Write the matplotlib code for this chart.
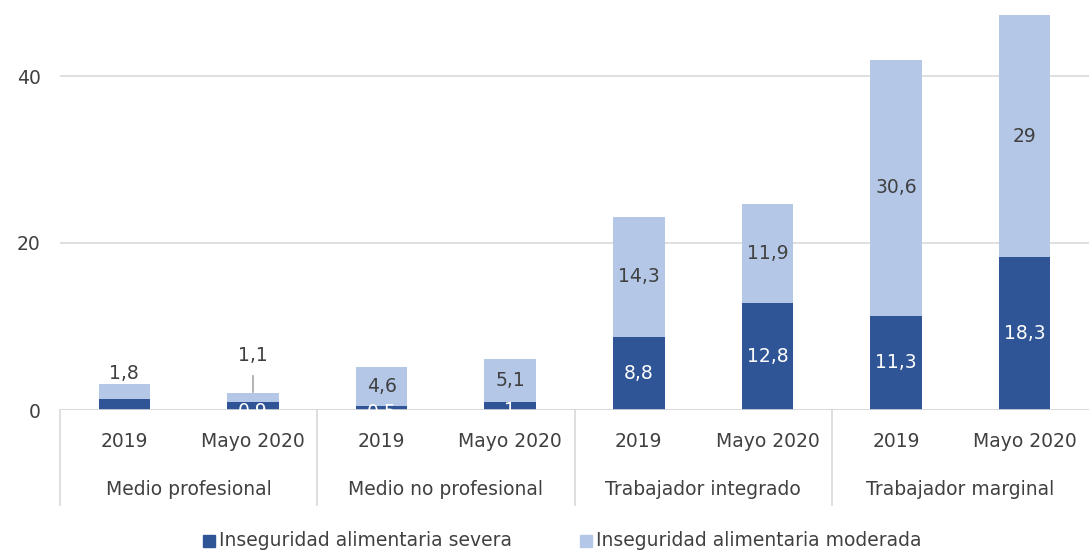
import matplotlib.pyplot as plt
import numpy as np

groups = ['Medio profesional', 'Medio no profesional', 'Trabajador integrado', 'Trabajador marginal']
periods = ['2019', 'Mayo 2020']
severa = [1.3, 0.9, 0.5, 1.0, 8.8, 12.8, 11.3, 18.3]
moderada = [1.8, 1.1, 4.6, 5.1, 14.3, 11.9, 30.6, 29.0]
severa_lbl = [None, '0,9', '0,5', '1', '8,8', '12,8', '11,3', '18,3']
moderada_lbl = ['1,8', '1,1', '4,6', '5,1', '14,3', '11,9', '30,6', '29']

c_sev = '#2F5597'
c_mod = '#B4C7E7'
txt = '#404040'
grid = '#D9D9D9'
fs = 13.5

plt.rcParams['font.family'] = ['DejaVu Sans']

fig = plt.figure(figsize=(10.89, 5.51), dpi=100)
ax = fig.add_axes([60/1089, 1-410/551, 1-60/1089, 410/551])

x = np.arange(len(severa))
sev = np.array(severa)
mod = np.array(moderada)
ax.bar(x, sev, width=0.4, color=c_sev, zorder=3)
ax.bar(x, mod, width=0.4, bottom=sev, color=c_mod, zorder=3)

ax.set_xlim(-0.5, 7.5)
ax.set_ylim(0, 410/8.35)
ax.set_yticks([0, 20, 40])
ax.tick_params(axis='y', length=0, labelsize=fs, labelcolor=txt, pad=14)
ax.set_xticks([])
for s in ax.spines.values():
    s.set_visible(False)
ax.grid(axis='y', color=grid, lw=1.2, zorder=0)
ax.axhline(0, color=grid, lw=1.2, zorder=4)

# data labels
for i in range(len(x)):
    if severa_lbl[i] is not None:
        yy = sev[i]/2 if sev[i] > 3 else sev[i]/2 - 0.6
        ax.text(x[i], yy, severa_lbl[i], ha='center', va='center',
                color='white', fontsize=fs, zorder=5, clip_on=True)
    if i == 0:
        ax.text(x[i], sev[i]+mod[i]+1.3, moderada_lbl[i], ha='center', va='center',
                color=txt, fontsize=fs)
    elif i == 1:
        ax.plot([x[i], x[i]], [sev[i]+mod[i]+0.1, 4.1], color='#A6A6A6', lw=1.2)
        ax.text(x[i], 6.5, moderada_lbl[i], ha='center', va='center',
                color=txt, fontsize=fs)
    else:
        ax.text(x[i], sev[i]+mod[i]/2, moderada_lbl[i], ha='center', va='center',
                color=txt, fontsize=fs, zorder=5)

# multi-level category axis
trans = ax.get_xaxis_transform()
for i in range(len(x)):
    ax.text(x[i], -0.076, periods[i % 2], transform=trans, ha='center', va='center',
            color=txt, fontsize=fs)
for g, name in enumerate(groups):
    ax.text(2*g + 0.5, -0.195, name, transform=trans, ha='center', va='center',
            color=txt, fontsize=fs)
for b in [-0.5, 1.5, 3.5, 5.5]:
    ax.plot([b, b], [0, -0.232], transform=trans, color=grid, lw=1.2, clip_on=False)

# legend
fig.patches.append(plt.Rectangle((203/1089, 1-547/551), 12/1089, 12/551,
                                 transform=fig.transFigure, color=c_sev))
fig.text(219/1089, 1-540/551, 'Inseguridad alimentaria severa', ha='left', va='center',
         color=txt, fontsize=fs)
fig.patches.append(plt.Rectangle((580/1089, 1-547/551), 12/1089, 12/551,
                                 transform=fig.transFigure, color=c_mod))
fig.text(596/1089, 1-540/551, 'Inseguridad alimentaria moderada', ha='left', va='center',
         color=txt, fontsize=fs)

fig.savefig('out.png', dpi=100)
